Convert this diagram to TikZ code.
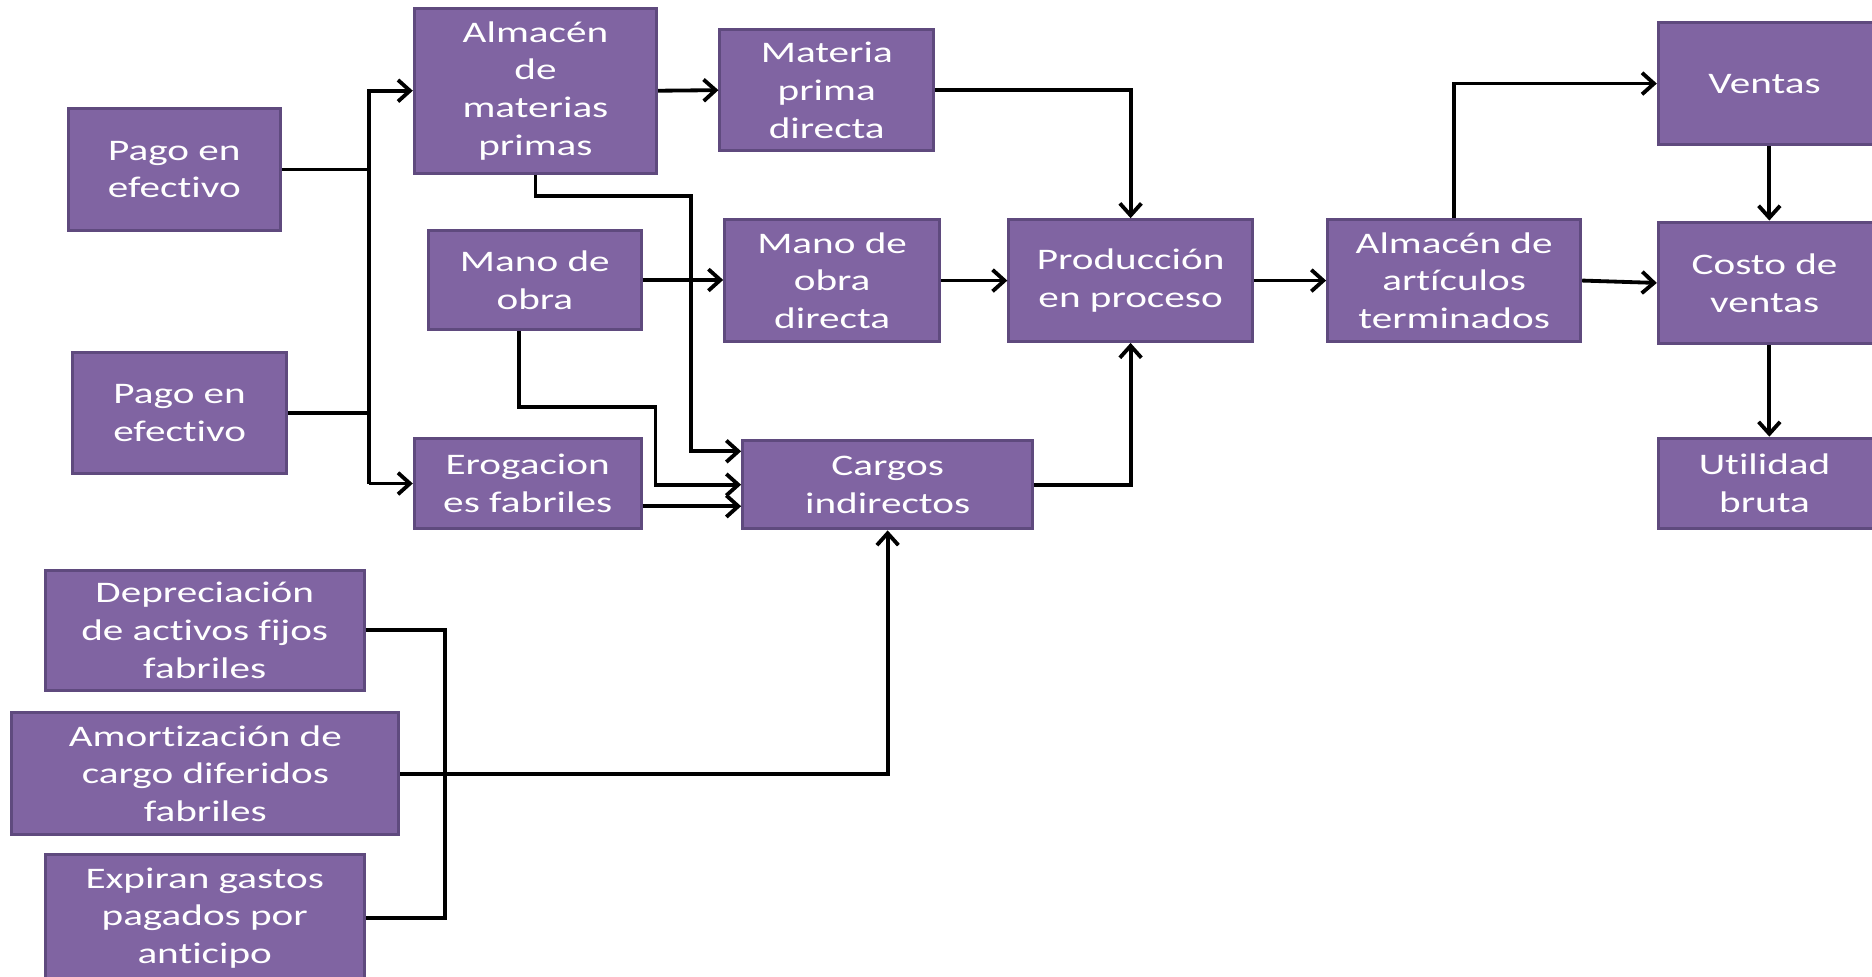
\documentclass[tikz,border=0pt]{standalone}
\usepackage{fontspec}
\setmainfont{Carlito}[FakeStretch=1.38, Ligatures={NoCommon}]
\usetikzlibrary{arrows.meta}
\definecolor{boxfill}{HTML}{8064A2}
\definecolor{boxedge}{HTML}{5F4A7E}
\begin{document}
\begin{tikzpicture}[x=1pt,y=-1pt,
  box/.style={draw=boxedge, line width=2.5pt, fill=boxfill, text=white,
    align=center, inner sep=0pt,
    font=\fontsize{25}{31.6}\selectfont},
  line/.style={draw=black, line width=3.2pt},
  arr/.style={line, -{Straight Barb[length=10pt,width=18pt]}}]
\useasboundingbox (0,0) rectangle (1568,818);
\clip (0,0) rectangle (1568,818);

% boxes: min width/height and centre in picture units
\node[box, minimum width=178, minimum height=102] (pago1) at (146,142) {Pago en\\efectivo};
\node[box, minimum width=179, minimum height=102] (pago2) at (150.5,346) {Pago en\\efectivo};
\node[box, minimum width=203, minimum height=138] (almMP) at (448.5,76) {Almacén\\de\\materias\\primas};
\node[box, minimum width=179, minimum height=101] (mpd) at (692.5,75.5) {Materia\\prima\\directa};
\node[box, minimum width=178, minimum height=83] (mano) at (448,234.5) {Mano de\\obra};
\node[box, minimum width=180, minimum height=102] (mod) at (697,235) {Mano de\\obra\\directa};
\node[box, minimum width=204, minimum height=102] (prod) at (947,235) {Producción\\en proceso};
\node[box, minimum width=212, minimum height=102] (art) at (1218,235) {Almacén de\\artículos\\terminados};
\node[box, minimum width=186, minimum height=102] (ventas) at (1482,70) {\hspace*{-8pt}Ventas};
\node[box, minimum width=186, minimum height=102] (costo) at (1482,237) {\hspace*{-8pt}Costo de\\\hspace*{-8pt}ventas};
\node[box, minimum width=186, minimum height=76] (util) at (1482,405) {\hspace*{-8pt}Utilidad\\\hspace*{-8pt}bruta};
\node[box, minimum width=190, minimum height=76] (erog) at (442,405) {Erogacion\\es fabriles};
\node[box, minimum width=243, minimum height=74] (cargos) at (743.5,406) {Cargos\\indirectos};
\node[box, minimum width=267, minimum height=100] (dep) at (171.5,528) {Depreciación\\de activos fijos\\fabriles};
\node[box, minimum width=324, minimum height=102] (amort) at (172,648) {Amortización de\\cargo diferidos\\fabriles};
\node[box, minimum width=267, minimum height=106] (exp) at (171.5,769) {Expiran gastos\\pagados por\\anticipo};

% junction lines
\coordinate (bus) at (309,0);
\coordinate (mpdrop) at (579,164);
\coordinate (mandrop) at (549,341);
\coordinate (brk) at (373,0);

% cash payments feed the raw-material store and factory expenses
\draw[line] (pago1.east) -- (pago1.east -| bus);
\draw[line] (pago2.east) -- (pago2.east -| bus);
\draw[arr] (bus |- erog.west) -- (erog.west);
\draw[arr] (bus |- erog.west) -- (bus |- almMP.west) -- (almMP.west);

% raw materials
\draw[arr] (almMP.east) -- (mpd.west);
\draw[arr] (mpd.east) -| (prod.north);
\draw[arr] (almMP.south) |- (mpdrop) |- ([yshift=28pt]cargos.west);

% labour
\draw[arr] (mano.east) -- (mano.east -| mod.west);
\draw[arr] ([xshift=-13pt]mano.south) |- (mandrop) |- (cargos.west);
\draw[arr] (mod.east) -- (mod.east -| prod.west);

% overheads
\draw[arr] ([yshift=-19pt]erog.east) -- ([yshift=-19pt]erog.east -| cargos.west);
\draw[arr] (cargos.east) -| (prod.south);
\draw[line] (dep.east) -- (dep.east -| brk) -- (exp.east -| brk) -- (exp.east);
\draw[arr] (amort.east) -| (cargos.south);

% finished goods and sales
\draw[arr] (prod.east) -- (prod.east -| art.west);
\draw[arr] (art.north) |- (ventas.west);
\draw[arr] (art.east) -- (costo.west);
\draw[arr] (ventas.south) -- (costo.north);
\draw[arr] (costo.south) -- (util.north);
\end{tikzpicture}
\end{document}
